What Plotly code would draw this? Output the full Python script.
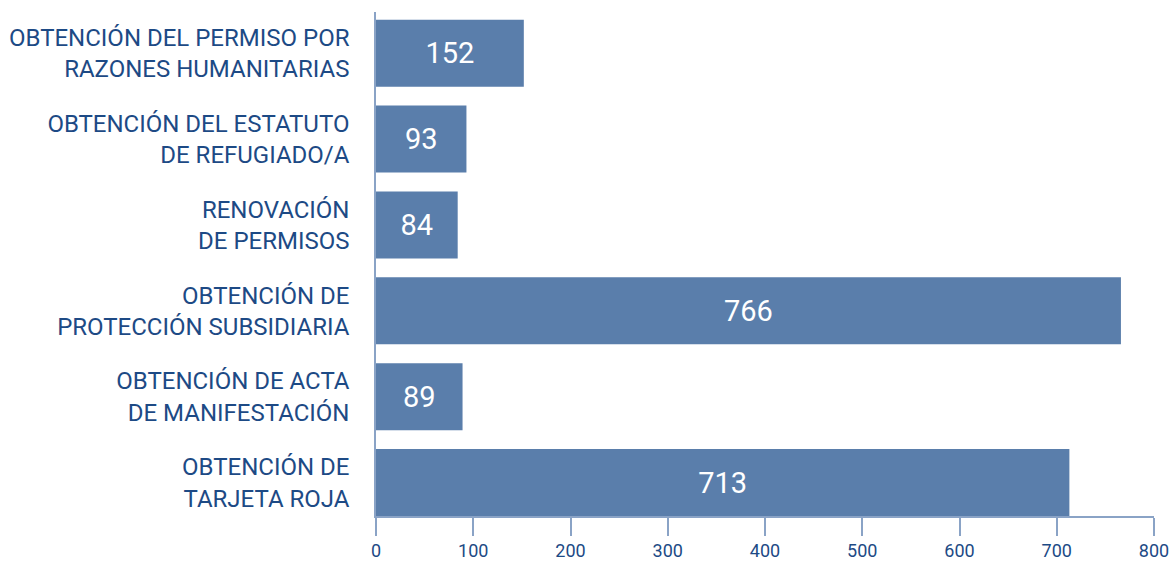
import plotly.graph_objects as go

categories = [
    "OBTENCIÓN DE<br>TARJETA ROJA",
    "OBTENCIÓN DE ACTA<br>DE MANIFESTACIÓN",
    "OBTENCIÓN DE<br>PROTECCIÓN SUBSIDIARIA",
    "RENOVACIÓN<br>DE PERMISOS",
    "OBTENCIÓN DEL ESTATUTO<br>DE REFUGIADO/A",
    "OBTENCIÓN DEL PERMISO POR<br>RAZONES HUMANITARIAS",
]
values = [713, 89, 766, 84, 93, 152]
x_ticks = [0, 100, 200, 300, 400, 500, 600, 700, 800]

BAR = "#5a7eab"
TEXT = "#1d4a85"
AXIS = "#8aa3c6"
FONT = "Roboto, Arial, sans-serif"

fig = go.Figure(go.Bar(
    x=values, y=categories, orientation="h",
    marker=dict(color=BAR, line=dict(width=0)),
    width=0.78,
    text=[str(v) for v in values],
    textposition="inside", insidetextanchor="middle",
    textfont=dict(color="white", size=29, family=FONT),
    cliponaxis=False,
))

fig.update_layout(
    width=1175, height=562,
    margin=dict(l=376, r=21, t=12, b=46, autoexpand=False),
    paper_bgcolor="white", plot_bgcolor="white",
    showlegend=False,
    uniformtext=dict(minsize=10, mode="show"),
)
fig.update_xaxes(
    range=[0, 800], tickvals=x_ticks, ticktext=[str(t) for t in x_ticks],
    automargin=False,
    showgrid=False, zeroline=False,
    showline=True, linecolor=AXIS, linewidth=1.5,
    ticks="outside", ticklen=18, tickcolor=AXIS, tickwidth=1.5,
    ticklabelstandoff=0,
    tickfont=dict(color=TEXT, size=18, family=FONT),
)
fig.update_yaxes(
    range=[-0.39, 5.48],
    automargin=False,
    showgrid=False, zeroline=False,
    showline=True, linecolor=AXIS, linewidth=1.5,
    ticks="", ticklabelstandoff=20,
    tickfont=dict(color=TEXT, size=24, family=FONT),
)

fig.write_html("out.html")
